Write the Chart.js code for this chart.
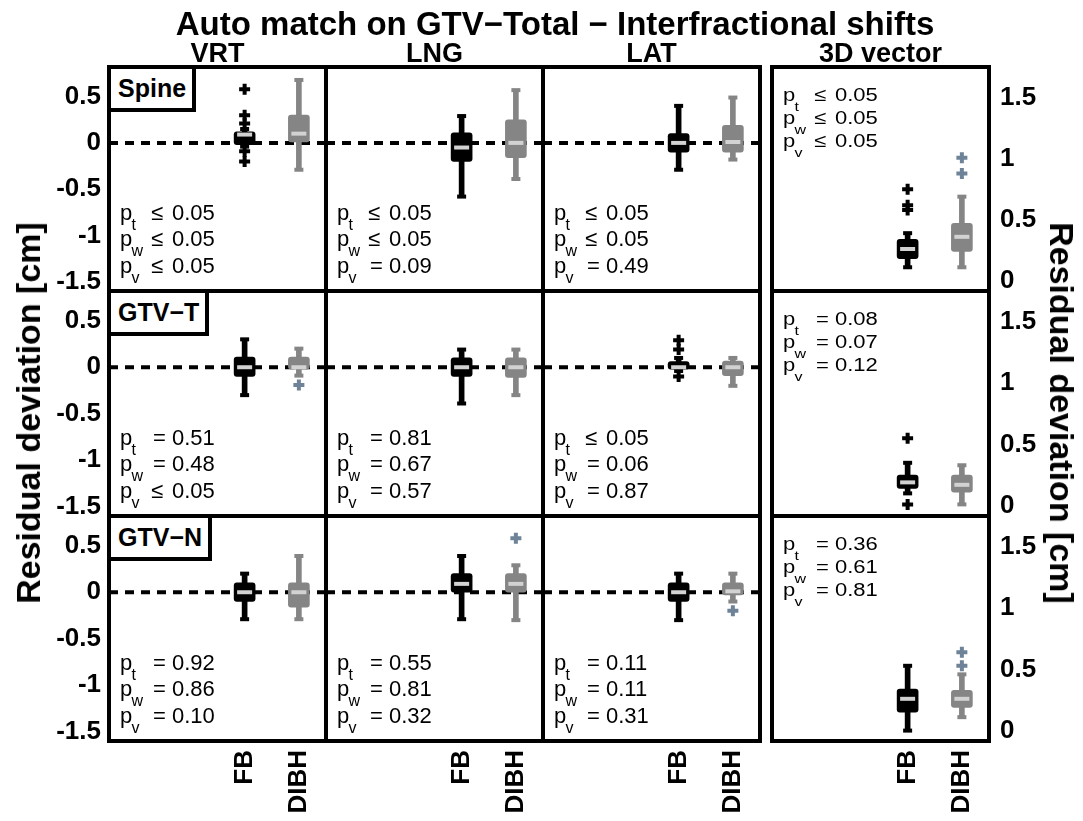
<!DOCTYPE html>
<html>
<head>
<meta charset="utf-8">
<script src="https://cdn.jsdelivr.net/npm/chart.js"></script>
<style>
  body { margin: 0; background: #fff; width: 1083px; height: 821px; position: relative; overflow: hidden;
         font-family: 'Liberation Sans', Arial, sans-serif; }
  canvas { position: absolute; }
  .t { position: absolute; white-space: nowrap; line-height: 1; color: #000; }
  .lbl { position: absolute; border: 4px solid #000; background: #fff; font-weight: bold; font-size: 25px;
         line-height: 39px; padding: 0 6px 0 7px; white-space: nowrap; }
</style>
</head>
<body>
<script>
const titleText = 'Auto match on GTV−Total − Interfractional shifts';
const yTitle = 'Residual deviation [cm]';
const directions = ['VRT', 'LNG', 'LAT', '3D vector'];
const targets = ['Spine', 'GTV−T', 'GTV−N'];
const groups = ['FB', 'DIBH'];
const leftTicks = [-1.5, -1, -0.5, 0, 0.5];
const rightTicks = [0, 0.5, 1, 1.5];

// [lower whisker, q1, median, q3, upper whisker], rows = targets, cols = directions
const fbBoxes = [
  [[-0.04, -0.02, 0.09, 0.12, 0.15], [-0.58, -0.20, -0.05, 0.11, 0.29], [-0.29, -0.10, 0.0, 0.10, 0.40], [0.11, 0.18, 0.26, 0.34, 0.39]],
  [[-0.30, -0.10, 0.0, 0.11, 0.30], [-0.39, -0.10, 0.0, 0.10, 0.19], [-0.04, -0.02, 0.0, 0.06, 0.10], [0.10, 0.14, 0.19, 0.25, 0.35]],
  [[-0.29, -0.10, 0.0, 0.10, 0.20], [-0.29, 0.0, 0.09, 0.20, 0.39], [-0.30, -0.10, 0.0, 0.10, 0.20], [0.0, 0.15, 0.26, 0.34, 0.53]]
];
const dibhBoxes = [
  [[-0.29, 0.01, 0.10, 0.30, 0.68], [-0.39, -0.16, 0.0, 0.25, 0.57], [-0.18, -0.10, 0.01, 0.19, 0.49], [0.11, 0.24, 0.36, 0.47, 0.69]],
  [[-0.09, -0.02, 0.0, 0.11, 0.20], [-0.30, -0.11, 0.0, 0.10, 0.19], [-0.20, -0.09, 0.0, 0.065, 0.10], [0.01, 0.11, 0.17, 0.25, 0.33]],
  [[-0.29, -0.16, 0.0, 0.10, 0.39], [-0.30, 0.0, 0.09, 0.20, 0.29], [-0.10, -0.03, 0.01, 0.10, 0.20], [0.11, 0.19, 0.26, 0.33, 0.46]]
];
const fbOutliers = [
  [[0.58, 0.30, 0.21, -0.09, -0.20], [], [], [0.75, 0.62, 0.58]],
  [[], [], [0.29, 0.19, -0.10], [0.55, 0.01]],
  [[], [], [], []]
];
const dibhOutliers = [
  [[], [], [], [1.01, 0.88]],
  [[-0.19], [], [], []],
  [[], [0.58], [-0.20], [0.64, 0.53]]
];
const pT = [
  ['≤ 0.05', '≤ 0.05', '≤ 0.05', '≤ 0.05'],
  ['= 0.51', '= 0.81', '≤ 0.05', '= 0.08'],
  ['= 0.92', '= 0.55', '= 0.11', '= 0.36']
];
const pW = [
  ['≤ 0.05', '≤ 0.05', '≤ 0.05', '≤ 0.05'],
  ['= 0.48', '= 0.67', '= 0.06', '= 0.07'],
  ['= 0.86', '= 0.81', '= 0.11', '= 0.61']
];
const pV = [
  ['≤ 0.05', '= 0.09', '= 0.49', '≤ 0.05'],
  ['≤ 0.05', '= 0.57', '= 0.87', '= 0.12'],
  ['= 0.10', '= 0.32', '= 0.31', '= 0.81']
];

const colLeft = [109, 326, 543, 772];
const rowTop = [67, 291, 516];
const rowH = [224, 225, 225];
const panelW = 217;
const groupColor = ['#000000', '#858585'];
const outlierColor = ['#000000', '#6f8398'];
const medianColor = '#d2d2d2';
const FONT = "'Liberation Sans', Arial, sans-serif";

Chart.defaults.font.family = FONT;
Chart.defaults.color = '#000';

const panelFrame = {
  id: 'panelFrame',
  beforeDatasetsDraw(chart, args, opts) {
    if (!opts.zeroLine) return;
    const { ctx, chartArea: a } = chart;
    const py = chart.scales.y.getPixelForValue(0);
    ctx.save();
    ctx.strokeStyle = '#000';
    ctx.lineWidth = 4;
    ctx.setLineDash([9, 7]);
    ctx.beginPath();
    ctx.moveTo(a.left, py);
    ctx.lineTo(a.right, py);
    ctx.stroke();
    ctx.restore();
  },
  afterDraw(chart) {
    const { ctx, chartArea: a } = chart;
    ctx.save();
    ctx.strokeStyle = '#000';
    ctx.lineWidth = 4;
    ctx.strokeRect(a.left, a.top, a.right - a.left, a.bottom - a.top);
    ctx.restore();
  }
};

function groupDatasets(stats, outs, g) {
  const x = g + 1;
  const [lo, q1, med, q3, hi] = stats;
  return [
    { type: 'bar', data: [{ x, y: [lo, hi] }], barThickness: 5, grouped: false,
      backgroundColor: groupColor[g], order: 5 },
    { type: 'scatter', data: [{ x, y: lo }, { x, y: hi }], pointStyle: 'line', pointRadius: 4.5,
      pointBorderWidth: 4, pointBorderColor: groupColor[g], order: 4 },
    { type: 'bar', data: [{ x, y: [q1, q3] }], barThickness: 21, grouped: false, borderRadius: 3,
      borderSkipped: false, backgroundColor: groupColor[g], order: 3 },
    { type: 'scatter', data: [{ x, y: med }], pointStyle: 'line', pointRadius: 7.5,
      pointBorderWidth: 4, pointBorderColor: medianColor, order: 2 },
    { type: 'scatter', data: outs.map(v => ({ x, y: v })), pointStyle: 'cross', pointRadius: 5.5,
      pointBorderWidth: 4, pointBorderColor: outlierColor[g], order: 1 }
  ];
}

function makePanel(r, c) {
  const isVec = c === 3;
  const showX = r === 2, showY = c === 0 || isVec;
  const L = colLeft[c], T = rowTop[r], W = panelW, H = rowH[r];
  const mL = c === 0 ? 80 : 30, mR = isVec ? 60 : 30, mT = 30, mB = showX ? 85 : 30;
  const canvas = document.createElement('canvas');
  canvas.width = W + mL + mR;
  canvas.height = H + mT + mB;
  canvas.style.left = (L - mL) + 'px';
  canvas.style.top = (T - mT) + 'px';
  document.body.appendChild(canvas);

  const datasets = [
    ...groupDatasets(fbBoxes[r][c], fbOutliers[r][c], 0),
    ...groupDatasets(dibhBoxes[r][c], dibhOutliers[r][c], 1)
  ];
  const tickFont = { family: FONT, size: 26, weight: 'bold' };

  new Chart(canvas, {
    type: 'bar',
    data: { datasets },
    options: {
      responsive: false,
      animation: false,
      events: [],
      layout: { padding: { left: c === 0 ? 0 : mL, right: isVec ? 0 : mR, top: mT, bottom: showX ? 0 : mB } },
      plugins: { legend: { display: false }, tooltip: { enabled: false }, panelFrame: { zeroLine: !isVec } },
      scales: {
        x: {
          type: 'linear', min: -1.5, max: 2.5, offset: false, display: showX, position: 'bottom',
          grid: { display: false, drawTicks: false }, border: { display: false },
          afterBuildTicks: s => { s.ticks = groups.map((g, i) => ({ value: i + 1 })); },
          ticks: { autoSkip: false, minRotation: 90, maxRotation: 90, padding: 9, color: '#000',
                   font: tickFont, callback: v => groups[v - 1] },
          afterFit: s => { s.height = showX ? mB : 0; }
        },
        y: {
          type: 'linear', min: isVec ? -0.085 : -1.6, max: isVec ? 1.755 : 0.82,
          position: isVec ? 'right' : 'left', display: showY,
          grid: { display: false, drawTicks: false }, border: { display: false },
          afterBuildTicks: s => { s.ticks = (isVec ? rightTicks : leftTicks).map(v => ({ value: v })); },
          ticks: { padding: isVec ? 11 : 8, color: '#000', font: tickFont, callback: v => String(v) },
          afterFit: s => { s.width = showY ? (isVec ? mR : mL) : 0; }
        }
      }
    },
    plugins: [panelFrame]
  });
}

function addText(txt, x, baseline, size, bold, center) {
  const d = document.createElement('div');
  d.className = 't';
  d.textContent = txt;
  d.style.fontSize = size + 'px';
  d.style.fontWeight = bold ? 'bold' : 'normal';
  d.style.left = x + 'px';
  d.style.top = (baseline - 0.8465 * size) + 'px';
  if (center) d.style.transform = 'translateX(-50%)';
  document.body.appendChild(d);
  return d;
}

function addPLine(L, baseline, sub, value, squash) {
  const [rel, num] = value.split(' ');
  const parts = [
    addText('p', L + 11, baseline, 22),
    addText(sub, L + 22.5, baseline + 10, 16),
    addText(rel, L + (rel === '=' ? 44 : 42), baseline, 22),
    addText(num, L + 63, baseline, 22)
  ];
  if (squash) parts.forEach(p => {
    p.style.transformOrigin = '0 ' + (0.8465 * parseFloat(p.style.fontSize)) + 'px';
    p.style.transform = 'scaleY(0.85)';
  });
}

for (let r = 0; r < 3; r++) for (let c = 0; c < 4; c++) makePanel(r, c);

// titles
addText(titleText, 555, 35, 33, true, true);
directions.forEach((d, c) => addText(d, colLeft[c] + panelW / 2, 63, 27, true, true));

// target labels
targets.forEach((t, r) => {
  const d = document.createElement('div');
  d.className = 'lbl';
  d.textContent = t;
  d.style.left = (colLeft[0] - 2) + 'px';
  d.style.top = (rowTop[r] - 2) + 'px';
  document.body.appendChild(d);
});

// p-values
for (let r = 0; r < 3; r++) {
  for (let c = 0; c < 4; c++) {
    const L = colLeft[c];
    if (c === 3) {
      const T = rowTop[r];
      addPLine(L, T + 34.5, 't', pT[r][c], true);
      addPLine(L, T + 57.5, 'w', pW[r][c], true);
      addPLine(L, T + 80.5, 'v', pV[r][c], true);
    } else {
      const B = rowTop[r] + rowH[r];
      addPLine(L, B - 70.5, 't', pT[r][c], false);
      addPLine(L, B - 44, 'w', pW[r][c], false);
      addPLine(L, B - 17.5, 'v', pV[r][c], false);
    }
  }
}

// axis titles
[[28, -90], [1062, 90]].forEach(([cx, rot]) => {
  const d = document.createElement('div');
  d.className = 't';
  d.textContent = yTitle;
  d.style.fontSize = '34px';
  d.style.fontWeight = 'bold';
  d.style.left = cx + 'px';
  d.style.top = '413px';
  d.style.transform = 'translate(-50%, -50%) rotate(' + rot + 'deg)';
  document.body.appendChild(d);
});
</script>
</body>
</html>
